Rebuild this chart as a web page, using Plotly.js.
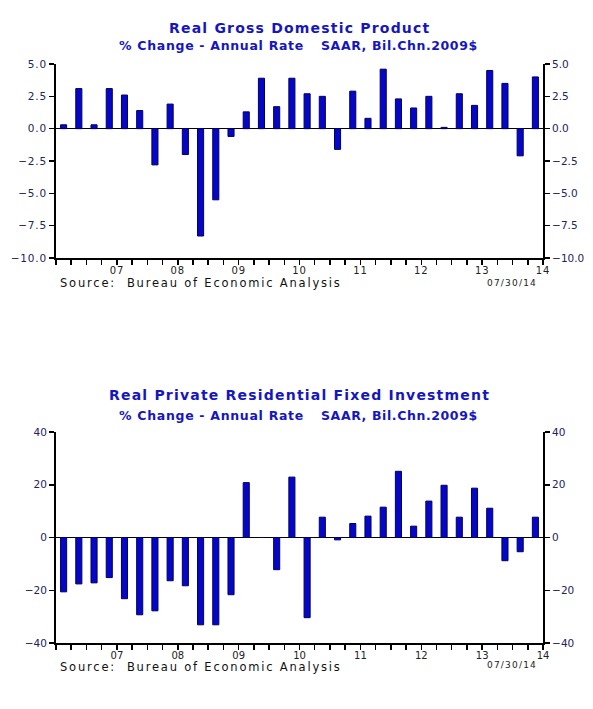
<!DOCTYPE html>
<html>
<head>
<meta charset="utf-8">
<script src="https://cdn.plot.ly/plotly-3.0.1.min.js"></script>
<style>
  html, body { margin: 0; padding: 0; background: #fff; }
  #chart { width: 593px; height: 709px; }
  .ytick text { letter-spacing: 0.8px; }
  .xtick text { letter-spacing: 0.8px; }
</style>
</head>
<body>
<div id="chart"></div>
<script>
// ---- Data ----
const quarters = ['2006Q3','2006Q4',
  '2007Q1','2007Q2','2007Q3','2007Q4',
  '2008Q1','2008Q2','2008Q3','2008Q4',
  '2009Q1','2009Q2','2009Q3','2009Q4',
  '2010Q1','2010Q2','2010Q3','2010Q4',
  '2011Q1','2011Q2','2011Q3','2011Q4',
  '2012Q1','2012Q2','2012Q3','2012Q4',
  '2013Q1','2013Q2','2013Q3','2013Q4',
  '2014Q1','2014Q2'];

// Real GDP, % change annual rate
const gdpValues = [0.3, 3.1,
  0.3, 3.1, 2.6, 1.4,
  -2.8, 1.9, -2.0, -8.3,
  -5.5, -0.6, 1.3, 3.9,
  1.7, 3.9, 2.7, 2.5,
  -1.6, 2.9, 0.8, 4.6,
  2.3, 1.6, 2.5, 0.1,
  2.7, 1.8, 4.5, 3.5,
  -2.1, 4.0];

// Real private residential fixed investment, % change annual rate
const resValues = [-20.6, -17.6,
  -17.2, -15.2, -23.2, -29.3,
  -27.8, -16.4, -18.3, -33.1,
  -33.1, -21.7, 20.8, 0.0,
  -12.2, 22.9, -30.4, 7.7,
  -0.9, 5.3, 8.1, 11.5,
  25.1, 4.3, 13.8, 19.8,
  7.7, 18.7, 11.1, -8.8,
  -5.4, 7.7];

const yearLabels = ['07','08','09','10','11','12','13','14'];
const gdpTicks = [-10, -7.5, -5, -2.5, 0, 2.5, 5];
const resTicks = [-40, -20, 0, 20, 40];

// ---- Derived positions (decimal year, mid-quarter) ----
const xs = quarters.map(q => {
  const y = parseInt(q.slice(0, 4), 10);
  const n = parseInt(q.slice(5), 10);
  return y + (n - 0.5) / 4;
});
const xStart = xs[0] - 0.125;
const xEnd = xs[xs.length - 1] + 0.125;

// quarter-boundary ticks, labels at mid-year
const tickVals = [];
const tickText = [];
for (let v = xStart; v <= xEnd + 1e-9; v += 0.25) {
  tickVals.push(v);
  const frac = v - Math.floor(v);
  let label = '';
  if (Math.abs(frac - 0.5) < 1e-6) {
    const yy = String(Math.floor(v) % 100).padStart(2, '0');
    if (yearLabels.indexOf(yy) >= 0) label = yy;
  }
  tickText.push(label);
}

const FONT = 'DejaVu Sans, Verdana, sans-serif';
const BLUE_TITLE = '#1616c0';
const BAR_FILL = '#0606c8';
const BAR_LINE = '#00005e';
const LABEL_NAVY = '#23235a';

const traces = [
  { type: 'bar', x: xs, y: gdpValues, xaxis: 'x', yaxis: 'y', width: 0.1,
    marker: { color: BAR_FILL, line: { color: BAR_LINE, width: 1 } }, showlegend: false },
  { type: 'scatter', mode: 'none', x: xs, y: gdpValues, xaxis: 'x', yaxis: 'y3',
    hoverinfo: 'skip', showlegend: false },
  { type: 'bar', x: xs, y: resValues, xaxis: 'x2', yaxis: 'y2', width: 0.1,
    marker: { color: BAR_FILL, line: { color: BAR_LINE, width: 1 } }, showlegend: false },
  { type: 'scatter', mode: 'none', x: xs, y: resValues, xaxis: 'x2', yaxis: 'y4',
    hoverinfo: 'skip', showlegend: false }
];

// geometry (pixels -> paper)
const W = 593, H = 709;
const mL = 56, mR = 50, mT = 64, mB = 66;
const plotW = W - mL - mR, plotH = H - mT - mB;
const px = p => (p - mL) / plotW;
const py = p => 1 - (p - mT) / plotH;

const xAxisBase = {
  range: [xStart, xEnd], tickmode: 'array', tickvals: tickVals, ticktext: tickText,
  ticks: 'outside', ticklen: 5, tickwidth: 1.5, tickcolor: '#000',
  showline: true, linecolor: '#000', linewidth: 2, mirror: false,
  showgrid: false, zeroline: false, fixedrange: true,
  tickfont: { family: FONT, size: 10, color: '#222' }, ticklabelstandoff: -3
};
function yAxisBase(range, ticks, fmt, side) {
  return {
    range: range, tickmode: 'array', tickvals: ticks,
    tickformat: fmt, side: side,
    ticks: 'outside', ticklen: 5, tickwidth: 1.5, tickcolor: '#000',
    showline: true, linecolor: '#000', linewidth: 2,
    showgrid: false, zeroline: side === 'left', zerolinecolor: '#000', zerolinewidth: 1.5,
    fixedrange: true,
    tickfont: { family: FONT, size: 10.5, color: LABEL_NAVY }
  };
}

const top1 = py(64), bot1 = py(258);
const top2 = py(432), bot2 = py(643);

function sp(text, ls) {
  return '<span style="letter-spacing:' + ls + 'px">' + text + '</span>';
}
function ann(text, cx, cy, size, color, ls) {
  return { text: sp(text, ls), xref: 'paper', yref: 'paper',
    x: px(cx), y: py(cy), xanchor: 'center', yanchor: 'middle', showarrow: false,
    font: { family: FONT, size: size, color: color } };
}

const layout = {
  width: W, height: H,
  margin: { l: mL, r: mR, t: mT, b: mB },
  paper_bgcolor: '#fff', plot_bgcolor: '#fff',
  font: { family: FONT },
  showlegend: false,
  xaxis: Object.assign({}, xAxisBase, { domain: [0, 1], anchor: 'y' }),
  xaxis2: Object.assign({}, xAxisBase, { domain: [0, 1], anchor: 'y2' }),
  yaxis: Object.assign(yAxisBase([-10, 5], gdpTicks, '.1f', 'left'), { domain: [bot1, top1], anchor: 'x' }),
  yaxis3: Object.assign(yAxisBase([-10, 5], gdpTicks, '.1f', 'right'), { overlaying: 'y', anchor: 'x' }),
  yaxis2: Object.assign(yAxisBase([-40, 40], resTicks, 'd', 'left'), { domain: [bot2, top2], anchor: 'x2' }),
  yaxis4: Object.assign(yAxisBase([-40, 40], resTicks, 'd', 'right'), { overlaying: 'y2', anchor: 'x2' }),
  annotations: [
    ann('<b>Real Gross Domestic Product</b>', 299, 28, 14, BLUE_TITLE, 1.2),
    ann('<b>% Change - Annual Rate</b>', 211, 46, 12.5, BLUE_TITLE, 0.7),
    ann('<b>SAAR, Bil.Chn.2009$</b>', 399, 46, 12.5, BLUE_TITLE, 0.6),
    ann('Source:  Bureau of Economic Analysis', 201, 283, 11.5, '#111', 1.8),
    ann('07/30/14', 512, 283, 9, '#222', 1.2),

    ann('<b>Real Private Residential Fixed Investment</b>', 299, 395, 14, BLUE_TITLE, 1.2),
    ann('<b>% Change - Annual Rate</b>', 211, 415, 12.5, BLUE_TITLE, 0.7),
    ann('<b>SAAR, Bil.Chn.2009$</b>', 399, 415, 12.5, BLUE_TITLE, 0.6),
    ann('Source:  Bureau of Economic Analysis', 201, 667, 11.5, '#111', 1.8),
    ann('07/30/14', 512, 665, 9, '#222', 1.2)
  ]
};

Plotly.newPlot('chart', traces, layout, { displayModeBar: false, staticPlot: true });
</script>
</body>
</html>
